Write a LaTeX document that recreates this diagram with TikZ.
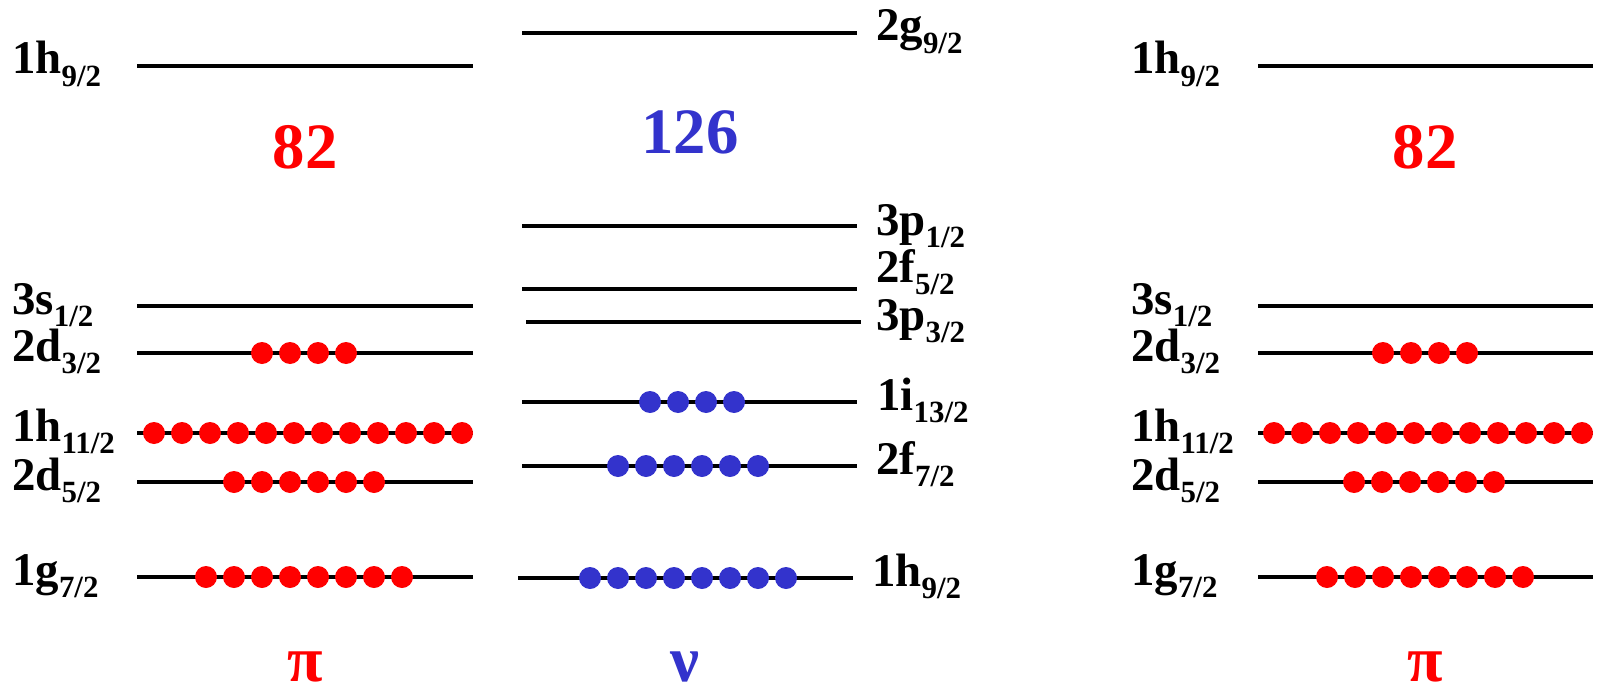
\documentclass[tikz,border=0pt]{standalone}
\usepackage{fontspec}
\setmainfont{Liberation Serif}
\definecolor{pred}{RGB}{255,0,0}
\definecolor{nblue}{RGB}{51,51,204}
\newcommand{\levlab}[2]{{\fontsize{47}{47}\selectfont #1}\raisebox{-12.5bp}{\fontsize{31}{31}\selectfont #2}}
\begin{document}
\begin{tikzpicture}[x=1bp,y=-1bp,
  lvl/.style={line width=4bp},
  lab/.style={anchor=base west, inner sep=0pt, font=\bfseries},
  magic/.style={inner sep=0pt, font=\fontsize{65}{65}\selectfont\bfseries},
  pdot/.style={fill=pred},
  ndot/.style={fill=nblue}]
\useasboundingbox (0,0) rectangle (1600,686);
% ---------- left proton column ----------
\foreach \y in {66,306,353,433,482,577} \draw[lvl] (137,\y) -- (473,\y);
\node[lab] (l1h9) at (12,74) {\levlab{1h}{9/2}};
\node[lab] (l3s1) at (12,314) {\levlab{3s}{1/2}};
\node[lab] (l2d3) at (12,361) {\levlab{2d}{3/2}};
\node[lab] (l1h11) at (12,441) {\levlab{1h}{11/2}};
\node[lab] (l2d5) at (12,490) {\levlab{2d}{5/2}};
\node[lab] (l1g7) at (12,585) {\levlab{1g}{7/2}};
\foreach \i in {0,...,3} \fill[pdot] (262+28*\i,353) circle (11bp);
\foreach \i in {0,...,11} \fill[pdot] (154+28*\i,433) circle (11bp);
\foreach \i in {0,...,5} \fill[pdot] (234+28*\i,482) circle (11bp);
\foreach \i in {0,...,7} \fill[pdot] (206+28*\i,577) circle (11bp);
\node[magic, text=pred] (m82l) at (305,147.5) {82};
\node[magic, text=pred, anchor=base] (pil) at (305,681) {π};
% ---------- middle neutron column ----------
\foreach \y in {33,226,289,402,466} \draw[lvl] (522,\y) -- (857,\y);
\draw[lvl] (526,322) -- (861,322);
\draw[lvl] (518,578) -- (853,578);
\node[lab] (m2g9) at (876,41) {\levlab{2g}{9/2}};
\node[lab] (m3p1) at (876,235) {\levlab{3p}{1/2}};
\node[lab] (m2f5) at (876,282) {\levlab{2f}{5/2}};
\node[lab] (m3p3) at (876,330) {\levlab{3p}{3/2}};
\node[lab] (m1i13) at (877,410) {\levlab{1i}{13/2}};
\node[lab] (m2f7) at (876,474) {\levlab{2f}{7/2}};
\node[lab] (m1h9) at (872,586) {\levlab{1h}{9/2}};
\foreach \i in {0,...,3} \fill[ndot] (650+28*\i,402) circle (11bp);
\foreach \i in {0,...,5} \fill[ndot] (618+28*\i,466) circle (11bp);
\foreach \i in {0,...,7} \fill[ndot] (590+28*\i,578) circle (11bp);
\node[magic, text=nblue] (m126) at (690,132.5) {126};
\node[magic, text=nblue, anchor=base] (nu) at (685,681) {ν};
% ---------- right proton column ----------
\foreach \y in {66,306,353,433,482,577} \draw[lvl] (1258,\y) -- (1593,\y);
\node[lab] (r1h9) at (1131,74) {\levlab{1h}{9/2}};
\node[lab] (r3s1) at (1131,314) {\levlab{3s}{1/2}};
\node[lab] (r2d3) at (1131,361) {\levlab{2d}{3/2}};
\node[lab] (r1h11) at (1131,441) {\levlab{1h}{11/2}};
\node[lab] (r2d5) at (1131,490) {\levlab{2d}{5/2}};
\node[lab] (r1g7) at (1131,585) {\levlab{1g}{7/2}};
\foreach \i in {0,...,3} \fill[pdot] (1383+28*\i,353) circle (11bp);
\foreach \i in {0,...,11} \fill[pdot] (1274+28*\i,433) circle (11bp);
\foreach \i in {0,...,5} \fill[pdot] (1354+28*\i,482) circle (11bp);
\foreach \i in {0,...,7} \fill[pdot] (1327+28*\i,577) circle (11bp);
\node[magic, text=pred] (m82r) at (1425,147.5) {82};
\node[magic, text=pred, anchor=base] (pir) at (1425,681) {π};
\end{tikzpicture}
\end{document}
